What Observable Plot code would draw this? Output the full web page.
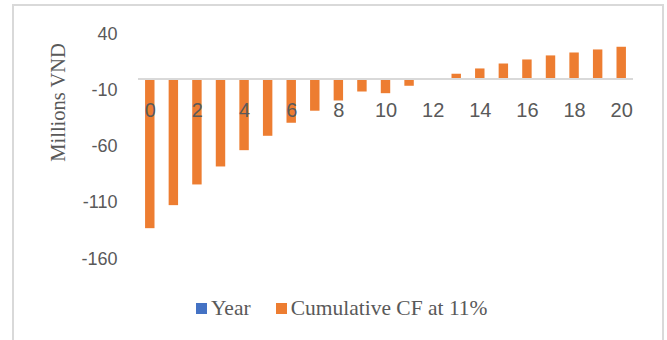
<!DOCTYPE html>
<html>
<head>
<meta charset="utf-8">
<script src="https://cdn.jsdelivr.net/npm/d3@7"></script>
<script src="https://cdn.jsdelivr.net/npm/@observablehq/plot@0.6"></script>
<style>
  body { margin: 0; background: #fff; width: 667px; height: 340px; overflow: hidden; position: relative; }
  #frame { position: absolute; left: 12px; top: 4px; width: 652px; height: 400px; border: 2px solid #d9d9d9; box-sizing: border-box; }
  #chart { position: absolute; left: 0; top: 0; }
  #legend { position: absolute; left: 196px; top: 296px; height: 24px; display: flex; align-items: center;
            font-family: "Liberation Serif", "Times New Roman", serif; font-size: 21.5px; color: #595959; white-space: nowrap; }
  .sw { display: inline-block; width: 11px; height: 11px; margin-right: 4px; }
  .item { display: flex; align-items: center; }
</style>
</head>
<body>
<div id="frame"></div>
<div id="chart"></div>
<div id="legend"></div>
<script>
const years = [0, 1, 2, 3, 4, 5, 6, 7, 8, 9, 10, 11, 12, 13, 14, 15, 16, 17, 18, 19, 20];
const cumulativeCF = [-133.2, -112.7, -94.3, -78.3, -63.8, -51.0, -39.4, -28.7, -19.6, -11.6, -13.1, -6.5, 0, 4.2, 8.9, 13.3, 16.9, 20.5, 23.1, 25.8, 28.2];
const yTicks = [-160, -110, -60, -10, 40];
const xTickLabels = [0, 2, 4, 6, 8, 10, 12, 14, 16, 18, 20];
const legendLabels = ["Year", "Cumulative CF at 11%"];
const legendColors = ["#4472C4", "#ED7D31"];
const yLabel = "Millions VND";

const data = years.map((y, i) => ({year: y, cf: cumulativeCF[i]}));

const chart = Plot.plot({
  width: 667,
  height: 290,
  marginLeft: 138,
  marginRight: 34,
  marginTop: 33.5,
  marginBottom: 31.7,
  style: {fontFamily: "Liberation Sans, Arial, sans-serif", color: "#595959", background: "transparent"},
  x: {type: "band", domain: years, paddingInner: 0.6, paddingOuter: 0.3, round: false, axis: null},
  y: {domain: [-160, 40], axis: null},
  marks: [
    Plot.axisY({ticks: yTicks, tickSize: 0, tickPadding: 21, fontSize: 18, tickFormat: d => String(d), label: null, fill: "#595959"}),
    Plot.barY(data, {x: "year", y: "cf", fill: "#ED7D31"}),
    Plot.ruleY([0], {stroke: "#d9d9d9", strokeWidth: 2}),
    Plot.text(xTickLabels, {x: d => d, y: () => 0, dy: 31.5, text: d => String(d), fontSize: 20, fill: "#595959", fontFamily: "Liberation Sans, Arial, sans-serif"}),
    Plot.text([yLabel], {frameAnchor: "left", textAnchor: "middle", lineAnchor: "middle", dx: -80, dy: -44, rotate: -90, text: d => d, fontSize: 20.5, fill: "#595959", fontFamily: "Liberation Serif, Times New Roman, serif"})
  ]
});
document.getElementById("chart").appendChild(chart);

const legend = document.getElementById("legend");
legendLabels.forEach((label, i) => {
  const item = document.createElement("span");
  item.className = "item";
  if (i > 0) item.style.marginLeft = "25px";
  const sw = document.createElement("span");
  sw.className = "sw";
  sw.style.background = legendColors[i];
  const t = document.createElement("span");
  t.textContent = label;
  item.appendChild(sw);
  item.appendChild(t);
  legend.appendChild(item);
});
</script>
</body>
</html>
